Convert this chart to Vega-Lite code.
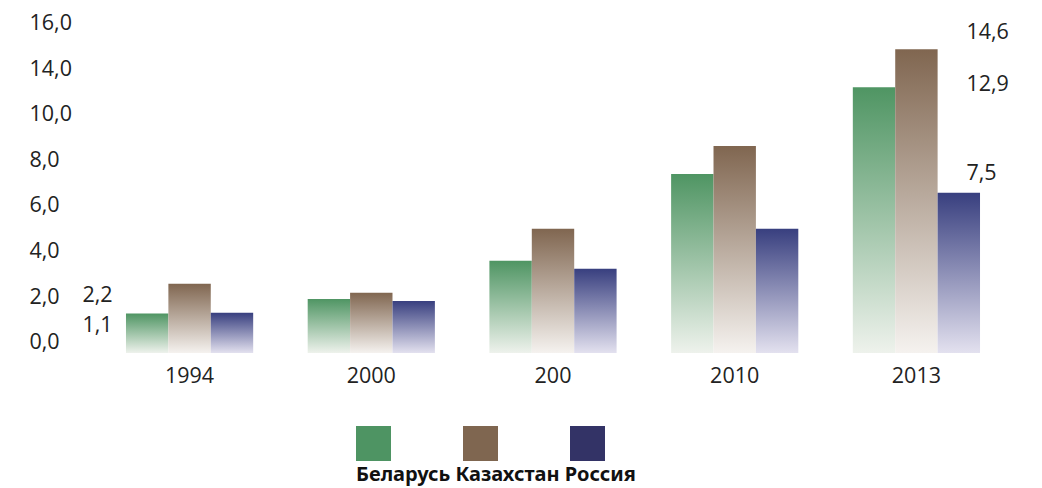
{
  "$schema": "https://vega.github.io/schema/vega-lite/v6.json",
  "width": 914,
  "height": 333,
  "autosize": "none",
  "padding": {"left": 96, "top": 20, "right": 32, "bottom": 135},
  "background": "white",
  "config": {"view": {"stroke": null}, "font": "Open Sans"},
  "datasets": {
    "bars": [
      {"year": "1994", "country": "Беларусь", "value": 1.90},
      {"year": "1994", "country": "Казахстан", "value": 3.33},
      {"year": "1994", "country": "Россия", "value": 1.93},
      {"year": "2000", "country": "Беларусь", "value": 2.60},
      {"year": "2000", "country": "Казахстан", "value": 2.90},
      {"year": "2000", "country": "Россия", "value": 2.50},
      {"year": "200", "country": "Беларусь", "value": 4.43},
      {"year": "200", "country": "Казахстан", "value": 5.97},
      {"year": "200", "country": "Россия", "value": 4.05},
      {"year": "2010", "country": "Беларусь", "value": 8.60},
      {"year": "2010", "country": "Казахстан", "value": 9.95},
      {"year": "2010", "country": "Россия", "value": 5.97},
      {"year": "2013", "country": "Беларусь", "value": 12.77},
      {"year": "2013", "country": "Казахстан", "value": 14.60},
      {"year": "2013", "country": "Россия", "value": 7.70}
    ],
    "notes": [
      {"year": "1994", "text": "2,2", "at": 2.74},
      {"year": "1994", "text": "1,1", "at": 1.30},
      {"year": "2013", "text": "14,6", "at": 15.36},
      {"year": "2013", "text": "12,9", "at": 12.88},
      {"year": "2013", "text": "7,5", "at": 8.6}
    ]
  },
  "encoding": {
    "x": {
      "field": "year",
      "type": "nominal",
      "sort": ["1994", "2000", "200", "2010", "2013"],
      "scale": {"paddingInner": 0.3, "paddingOuter": 0.165},
      "axis": {"title": null, "labelAngle": 0, "domain": false, "ticks": false, "labelPadding": 12, "labelFontSize": 21.5, "labelColor": "#222222", "labelFont": "Open Sans"}
    }
  },
  "layer": [
    {
      "data": {"name": "bars"},
      "mark": {"type": "bar"},
      "encoding": {
        "xOffset": {"field": "country", "type": "nominal", "sort": ["Беларусь", "Казахстан", "Россия"], "scale": {"paddingInner": 0, "paddingOuter": 0}},
        "y": {
          "datum": 0,
          "type": "quantitative",
          "scale": {"domain": [0, 16], "nice": false},
          "axis": {"title": null, "domain": false, "ticks": false, "grid": false, "values": [0.5, 2.69, 4.88, 7.07, 9.26, 11.45, 13.64, 15.83], "labelExpr": "['0,0','2,0','4,0','6,0','8,0','10,0','14,0','16,0'][round((datum.value-0.5)/2.19)]", "labelAlign": "left", "labelPadding": 67, "labelFontSize": 21.5, "labelColor": "#222222", "labelFont": "Open Sans"}
        },
        "color": {
          "field": "country",
          "type": "nominal",
          "sort": ["Беларусь", "Казахстан", "Россия"],
          "scale": {"range": ["#4e9463", "#7f6650", "#333366"]},
          "legend": {"orient": "none", "legendX": 260, "legendY": 406, "direction": "horizontal", "title": "Беларусь Казахстан Россия", "titleOrient": "bottom", "titleAnchor": "start", "titleAlign": "left", "titleLimit": 600, "titleFont": "Noto Sans", "titleFontWeight": "bold", "titleFontSize": 20, "titleColor": "#111111", "titlePadding": 4, "labelExpr": "''", "labelOffset": 0, "symbolType": "square", "symbolSize": 1225, "symbolStrokeWidth": 0, "symbolOpacity": 1, "columnPadding": 72, "padding": 0}
        }
      }
    },
    {
      "data": {"name": "bars"},
      "mark": {"type": "bar", "stroke": null},
      "encoding": {
        "xOffset": {"field": "country", "type": "nominal", "sort": ["Беларусь", "Казахстан", "Россия"]},
        "y": {"field": "value", "type": "quantitative", "axis": {"title": null, "domain": false, "ticks": false, "grid": false, "values": [0.5, 2.69, 4.88, 7.07, 9.26, 11.45, 13.64, 15.83], "labelExpr": "['0,0','2,0','4,0','6,0','8,0','10,0','14,0','16,0'][round((datum.value-0.5)/2.19)]", "labelAlign": "left", "labelPadding": 67, "labelFontSize": 21.5, "labelColor": "#222222", "labelFont": "Open Sans"}},
        "fill": {
          "condition": [
            {"test": "datum.country === 'Беларусь'", "value": {"gradient": "linear", "x1": 0, "y1": 0, "x2": 0, "y2": 1, "stops": [{"offset": 0, "color": "#4f9563"}, {"offset": 1, "color": "#eef2ec"}]}},
            {"test": "datum.country === 'Казахстан'", "value": {"gradient": "linear", "x1": 0, "y1": 0, "x2": 0, "y2": 1, "stops": [{"offset": 0, "color": "#806650"}, {"offset": 1, "color": "#f5f2ef"}]}}
          ],
          "value": {"gradient": "linear", "x1": 0, "y1": 0, "x2": 0, "y2": 1, "stops": [{"offset": 0, "color": "#383f7f"}, {"offset": 1, "color": "#e3e1ef"}]}
        }
      }
    },
    {
      "data": {"name": "notes"},
      "transform": [{"filter": "datum.year === '1994'"}],
      "mark": {"type": "text", "align": "right", "baseline": "middle", "dx": -77, "fontSize": 21.5, "font": "Open Sans", "color": "#222222"},
      "encoding": {
        "y": {"field": "at", "type": "quantitative"},
        "text": {"field": "text", "type": "nominal"}
      }
    },
    {
      "data": {"name": "notes"},
      "transform": [{"filter": "datum.year === '2013'"}],
      "mark": {"type": "text", "align": "left", "baseline": "middle", "dx": 50, "fontSize": 21.5, "font": "Open Sans", "color": "#222222"},
      "encoding": {
        "y": {"field": "at", "type": "quantitative"},
        "text": {"field": "text", "type": "nominal"}
      }
    }
  ]
}
